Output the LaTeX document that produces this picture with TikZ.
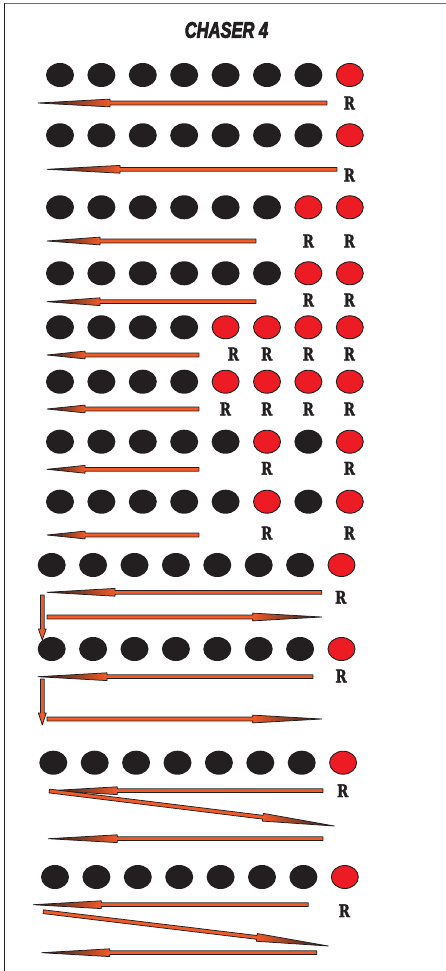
\documentclass[tikz,border=0pt]{standalone}
\usepackage{fontspec}
\usetikzlibrary{calc,shapes.geometric}
\newfontface\titlefont{Liberation Sans Bold Italic}[FakeBold=4]
\newfontface\rfont{DejaVu Serif Bold}[FakeBold=2]
\definecolor{ink}{HTML}{231F20}
\definecolor{redd}{HTML}{ED1C24}
\definecolor{orng}{HTML}{F15A29}
\definecolor{framegray}{HTML}{6D6E71}
\tikzset{
  blackdot/.style={ellipse, fill=ink, minimum width=28pt, minimum height=24pt, inner sep=0pt},
  reddot/.style={ellipse, fill=redd, draw=ink, line width=0.9pt, minimum width=27pt, minimum height=23pt, inner sep=0pt},
  rlab/.style={inner sep=0pt, text=ink, font=\rfont\fontsize{17.4}{18}\selectfont},
  titlestyle/.style={inner sep=0pt, text=ink, font=\titlefont\fontsize{22.3}{24}\selectfont},
  arrowline/.style={draw=ink, line width=0.75pt, line join=round},
  tipleft/.style={left color=ink, middle color=ink!55!orng, right color=orng},
  tipright/.style={left color=orng, middle color=ink!55!orng, right color=ink},
  tipdown/.style={top color=orng, bottom color=orng},
}
\newcommand{\chArrow}[4]{% tail, tip, head length, head shading
  \coordinate (hb) at ($(#2)!#3!(#1)$);
  \coordinate (s1) at ($(#1)!1.9pt!90:(#2)$);
  \coordinate (s2) at ($(hb)!1.9pt!90:(#2)$);
  \coordinate (s3) at ($(hb)!3.9pt!90:(#2)$);
  \coordinate (s4) at ($(hb)!3.9pt!-90:(#2)$);
  \coordinate (s5) at ($(hb)!1.9pt!-90:(#2)$);
  \coordinate (s6) at ($(#1)!1.9pt!-90:(#2)$);
  \fill[orng] (s1) -- (s2) -- (s5) -- (s6) -- cycle;
  \shade[#4] (s3) -- (#2) -- (s4) -- cycle;
  \draw[arrowline] (s1) -- (s2) -- (s3) -- (#2) -- (s4) -- (s5) -- (s6) -- cycle;
}
\newcommand{\Rl}{\scalebox{0.78}[1]{R}}
\begin{document}
\begin{tikzpicture}[x=1pt,y=-1pt]
\useasboundingbox (0,0) rectangle (446,971);
% frame
\draw[framegray, line width=1.6pt] (4,3.5) -- (446,3.5);
\draw[ink, line width=1pt] (4,3) -- (4,971);
% title
\node[titlestyle] (title) at (226.5,30) {\scalebox{0.74}[1]{CHASER 4}};
% dots
\foreach \r/\yy/\xx/\bl/\rd in {
  1/75/60/{1,...,7}/{8},
  2/135.3/60/{1,...,7}/{8},
  3/207.3/60/{1,...,6}/{7,8},
  4/273.3/60/{1,...,6}/{7,8},
  5/327.3/60/{1,...,4}/{5,...,8},
  6/381.7/60/{1,...,4}/{5,...,8},
  7/441.7/60/{1,...,5,7}/{6,8},
  8/501.7/60/{1,...,5,7}/{6,8},
  9/565/51.7/{1,...,7}/{8},
  10/649/51.7/{1,...,7}/{8},
  11/762.7/53.3/{1,...,7}/{8},
  12/877/55/{1,...,7}/{8}}{
  \foreach \c in \bl {\node[blackdot] (d\r-\c) at ({\xx+41.4*(\c-1)},\yy) {};}
  \foreach \c in \rd {\node[reddot] (d\r-\c) at ({\xx+41.4*(\c-1)},\yy) {};}
}
% R labels
\node[rlab] (R1-8) at (349.3,103) {\Rl};
\node[rlab] (R2-8) at (349.3,175) {\Rl};
\node[rlab] (R3-7) at (308.3,241) {\Rl};
\node[rlab] (R3-8) at (349.3,241) {\Rl};
\node[rlab] (R4-7) at (308.3,300) {\Rl};
\node[rlab] (R4-8) at (349.3,300) {\Rl};
\node[rlab] (R5-5) at (233.3,354) {\Rl};
\node[rlab] (R5-6) at (266.7,354) {\Rl};
\node[rlab] (R5-7) at (308.3,354) {\Rl};
\node[rlab] (R5-8) at (349.3,354) {\Rl};
\node[rlab] (R6-5) at (225.3,409) {\Rl};
\node[rlab] (R6-6) at (266.7,409) {\Rl};
\node[rlab] (R6-7) at (308.3,409) {\Rl};
\node[rlab] (R6-8) at (349.3,409) {\Rl};
\node[rlab] (R7-6) at (266.7,468.3) {\Rl};
\node[rlab] (R7-8) at (349.3,468.3) {\Rl};
\node[rlab] (R8-6) at (266.7,533) {\Rl};
\node[rlab] (R8-8) at (349.3,533) {\Rl};
\node[rlab] (R9-8) at (340.7,597.3) {\Rl};
\node[rlab] (R10-8) at (341,676) {\Rl};
\node[rlab] (R11-8) at (342.7,790.7) {\Rl};
\node[rlab] (R12-8) at (344.3,910.7) {\Rl};
% arrow end points
\coordinate (a1t) at (327,103);   \coordinate (a1p) at (38,103);
\coordinate (a2t) at (337,169.3); \coordinate (a2p) at (47,169.3);
\coordinate (a3t) at (256,241);   \coordinate (a3p) at (47,241);
\coordinate (a4t) at (256,301.7); \coordinate (a4p) at (47,301.7);
\coordinate (a5t) at (199,355);   \coordinate (a5p) at (47,355);
\coordinate (a6t) at (199,409);   \coordinate (a6p) at (47,409);
\coordinate (a7t) at (199,469.3); \coordinate (a7p) at (47,469.3);
\coordinate (a8t) at (199,535);   \coordinate (a8p) at (47,535);
\coordinate (a9at) at (321.7,592.3); \coordinate (a9ap) at (47,592.3);
\coordinate (a9bt) at (47,617);      \coordinate (a9bp) at (321.7,617);
\coordinate (v9t) at (42.3,595);     \coordinate (v9p) at (42.3,640);
\coordinate (a10at) at (313,676.7);  \coordinate (a10ap) at (38,676.7);
\coordinate (v10t) at (42.3,679);    \coordinate (v10p) at (42.3,725);
\coordinate (a10bt) at (47,719);     \coordinate (a10bp) at (321.7,719);
\coordinate (a11at) at (323,790.7);  \coordinate (a11ap) at (49.3,790.7);
\coordinate (a11bt) at (49.3,791);   \coordinate (a11bp) at (334.3,826);
\coordinate (a11ct) at (323,838.7);  \coordinate (a11cp) at (48.3,838.7);
\coordinate (a12at) at (308.3,904.7); \coordinate (a12ap) at (33.3,904.7);
\coordinate (a12bt) at (43.3,911.7);  \coordinate (a12bp) at (328.3,946);
\coordinate (a12ct) at (316.7,952.7); \coordinate (a12cp) at (41.7,952.7);
% arrows
\chArrow{a1t}{a1p}{72pt}{tipleft}
\chArrow{a2t}{a2p}{73pt}{tipleft}
\chArrow{a3t}{a3p}{53pt}{tipleft}
\chArrow{a4t}{a4p}{53pt}{tipleft}
\chArrow{a5t}{a5p}{38pt}{tipleft}
\chArrow{a6t}{a6p}{38pt}{tipleft}
\chArrow{a7t}{a7p}{38pt}{tipleft}
\chArrow{a8t}{a8p}{38pt}{tipleft}
\chArrow{a9at}{a9ap}{68pt}{tipleft}
\chArrow{a9bt}{a9bp}{69pt}{tipright}
\chArrow{v9t}{v9p}{11pt}{tipdown}
\chArrow{a10at}{a10ap}{69pt}{tipleft}
\chArrow{v10t}{v10p}{12pt}{tipdown}
\chArrow{a10bt}{a10bp}{69pt}{tipright}
\chArrow{a11at}{a11ap}{68pt}{tipleft}
\chArrow{a11bt}{a11bp}{72pt}{tipright}
\chArrow{a11ct}{a11cp}{69pt}{tipleft}
\chArrow{a12at}{a12ap}{68pt}{tipleft}
\chArrow{a12bt}{a12bp}{72pt}{tipright}
\chArrow{a12ct}{a12cp}{68pt}{tipleft}
\end{tikzpicture}
\end{document}
